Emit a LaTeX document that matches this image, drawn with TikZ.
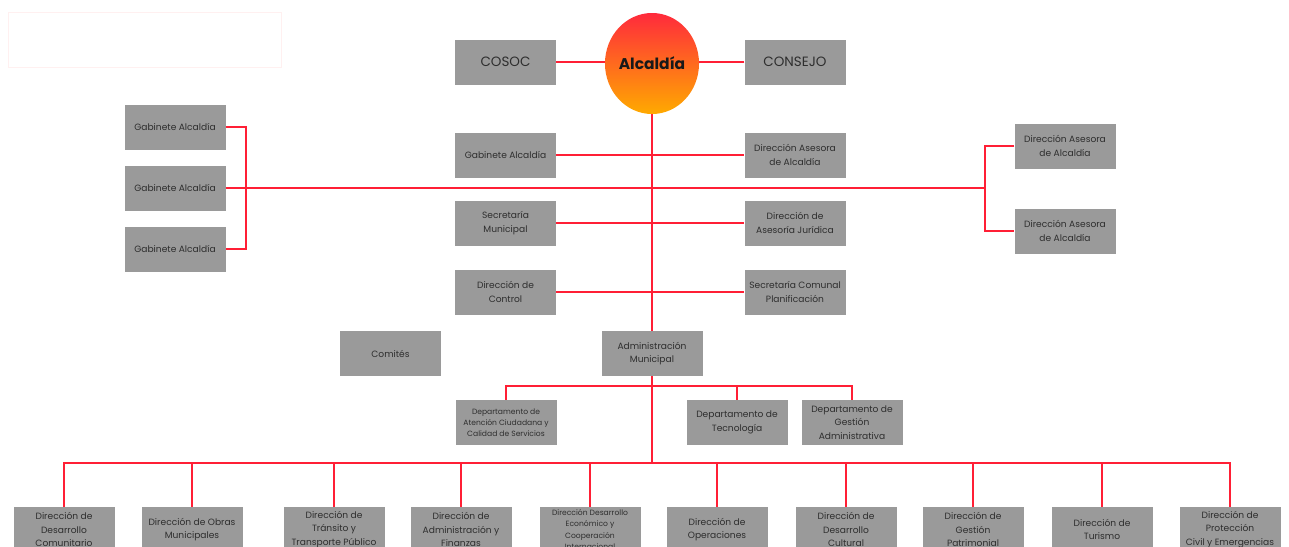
\documentclass[tikz,border=0pt]{standalone}
\usepackage{fontspec}
\setmainfont{Poppins}
\usetikzlibrary{shapes.geometric,calc}
\definecolor{boxgray}{HTML}{9A9A9A}
\definecolor{txt}{HTML}{2E2E2E}
\definecolor{lnred}{HTML}{FF1F35}
\definecolor{topred}{HTML}{FF2A3C}
\definecolor{botorange}{HTML}{FFAA00}
\begin{document}
\begin{tikzpicture}[x=1pt,y=-1pt,
  box/.style={rectangle,fill=boxgray,minimum width=101pt,minimum height=45pt,inner sep=1pt,align=center,text=txt,font=\fontsize{9.1}{13.5}\selectfont},
  bigbox/.style={box,font=\fontsize{13.5}{15}\selectfont},
  smallbox/.style={box,font=\fontsize{7.6}{11}\selectfont},
  conn/.style={draw=lnred,line width=1.4pt}]
\clip (0,0) rectangle (1289,546);
\fill[white] (0,0) rectangle (1289,546);
\node[draw=red!6,line width=0.8pt,minimum width=273pt,minimum height=55pt,inner sep=0pt] (frame) at (144.5,39.5) {};
% top
\node[bigbox] (cosoc) at (505.5,62) {COSOC};
\node[bigbox] (consejo) at (795,62) {CONSEJO};
\node[ellipse,top color=topred,bottom color=botorange,minimum width=89pt,minimum height=101pt,inner sep=0pt,font=\fontsize{15.5}{17}\selectfont\bfseries,text=black!90] (alc) at (652,63.5) {Alcaldía};
% central column
\node[box] (gab) at (505.5,155) {Gabinete Alcaldía};
\node[box] (dase) at (795,155) {Dirección Asesora\\de Alcaldía};
\node[box] (sec) at (505.5,223) {Secretaría\\Municipal};
\node[box] (djur) at (795,223) {Dirección de\\Asesoría Jurídica};
\node[box] (dctl) at (505.5,292) {Dirección de\\Control};
\node[box] (scp) at (795,292) {Secretaría Comunal\\Planificación};
\node[box] (com) at (390.5,353.5) {Comités};
\node[box] (adm) at (652,353.5) {Administración\\Municipal};
% departments
\node[smallbox] (d1) at (506,422.5) {Departamento de\\Atención Ciudadana y\\Calidad de Servicios};
\node[box] (d2) at (737,422.5) {Departamento de\\Tecnología};
\node[box] (d3) at (852,422.5) {Departamento de\\Gestión\\Administrativa};
% left
\node[box] (gl1) at (175,127) {Gabinete Alcaldía};
\node[box] (gl2) at (175,188) {Gabinete Alcaldía};
\node[box] (gl3) at (175,249) {Gabinete Alcaldía};
% right
\node[box] (da1) at (1065,146) {Dirección Asesora\\de Alcaldía};
\node[box] (da2) at (1065,231) {Dirección Asesora\\de Alcaldía};
% bottom row
\node[box] (b1) at (64,529.5) {Dirección de\\Desarrollo\\Comunitario};
\node[box] (b2) at (192,529.5) {Dirección de Obras\\Municipales};
\node[box] (b3) at (334,529.5) {Dirección de\\Tránsito y\\Transporte Público};
\node[box] (b4) at (461,529.5) {Dirección de\\Administración y\\Finanzas};
\node[box,font=\fontsize{7.6}{11.5}\selectfont] (b5) at (590,529.5) {Dirección Desarrollo\\Económico y\\Cooperación\\Internacional};
\node[box] (b6) at (717,529.5) {Dirección de\\Operaciones};
\node[box] (b7) at (846,529.5) {Dirección de\\Desarrollo\\Cultural};
\node[box] (b8) at (973,529.5) {Dirección de\\Gestión\\Patrimonial};
\node[box] (b9) at (1102,529.5) {Dirección de\\Turismo};
\node[box] (b10) at (1230,529.5) {Dirección de\\Protección\\Civil y Emergencias};
% coordinates
\coordinate (lb) at (246,188);
\coordinate (rb) at (985,188);
\coordinate (dbar) at (652,386);
\coordinate (bbar) at (652,463);
% connectors
\draw[conn] (cosoc.east) -- (alc.west |- cosoc.east);
\draw[conn] (consejo.west) -- (alc.east |- consejo.west);
\draw[conn] (alc.south) -- (adm.north);
\draw[conn] (adm.south) -- (bbar);
\draw[conn] (gab.east) -- (dase.west);
\draw[conn] (sec.east) -- (djur.west);
\draw[conn] (dctl.east) -- (scp.west);
\draw[conn] (gl2.east) -- (rb);
\draw[conn] (gl1.east) -| (lb) |- (gl3.east);
\draw[conn] (da1.west) -| (rb) |- (da2.west);
\draw[conn] (d1.north) |- (d3.north |- dbar) -- (d3.north);
\draw[conn] (d2.north) -- (d2.north |- dbar);
\draw[conn] (b1.north) |- (b10.north |- bbar) -- (b10.north);
\foreach \b in {b2,b3,b4,b5,b6,b7,b8,b9}{
  \draw[conn] (\b.north) -- (\b.north |- bbar);
}
\end{tikzpicture}
\end{document}
